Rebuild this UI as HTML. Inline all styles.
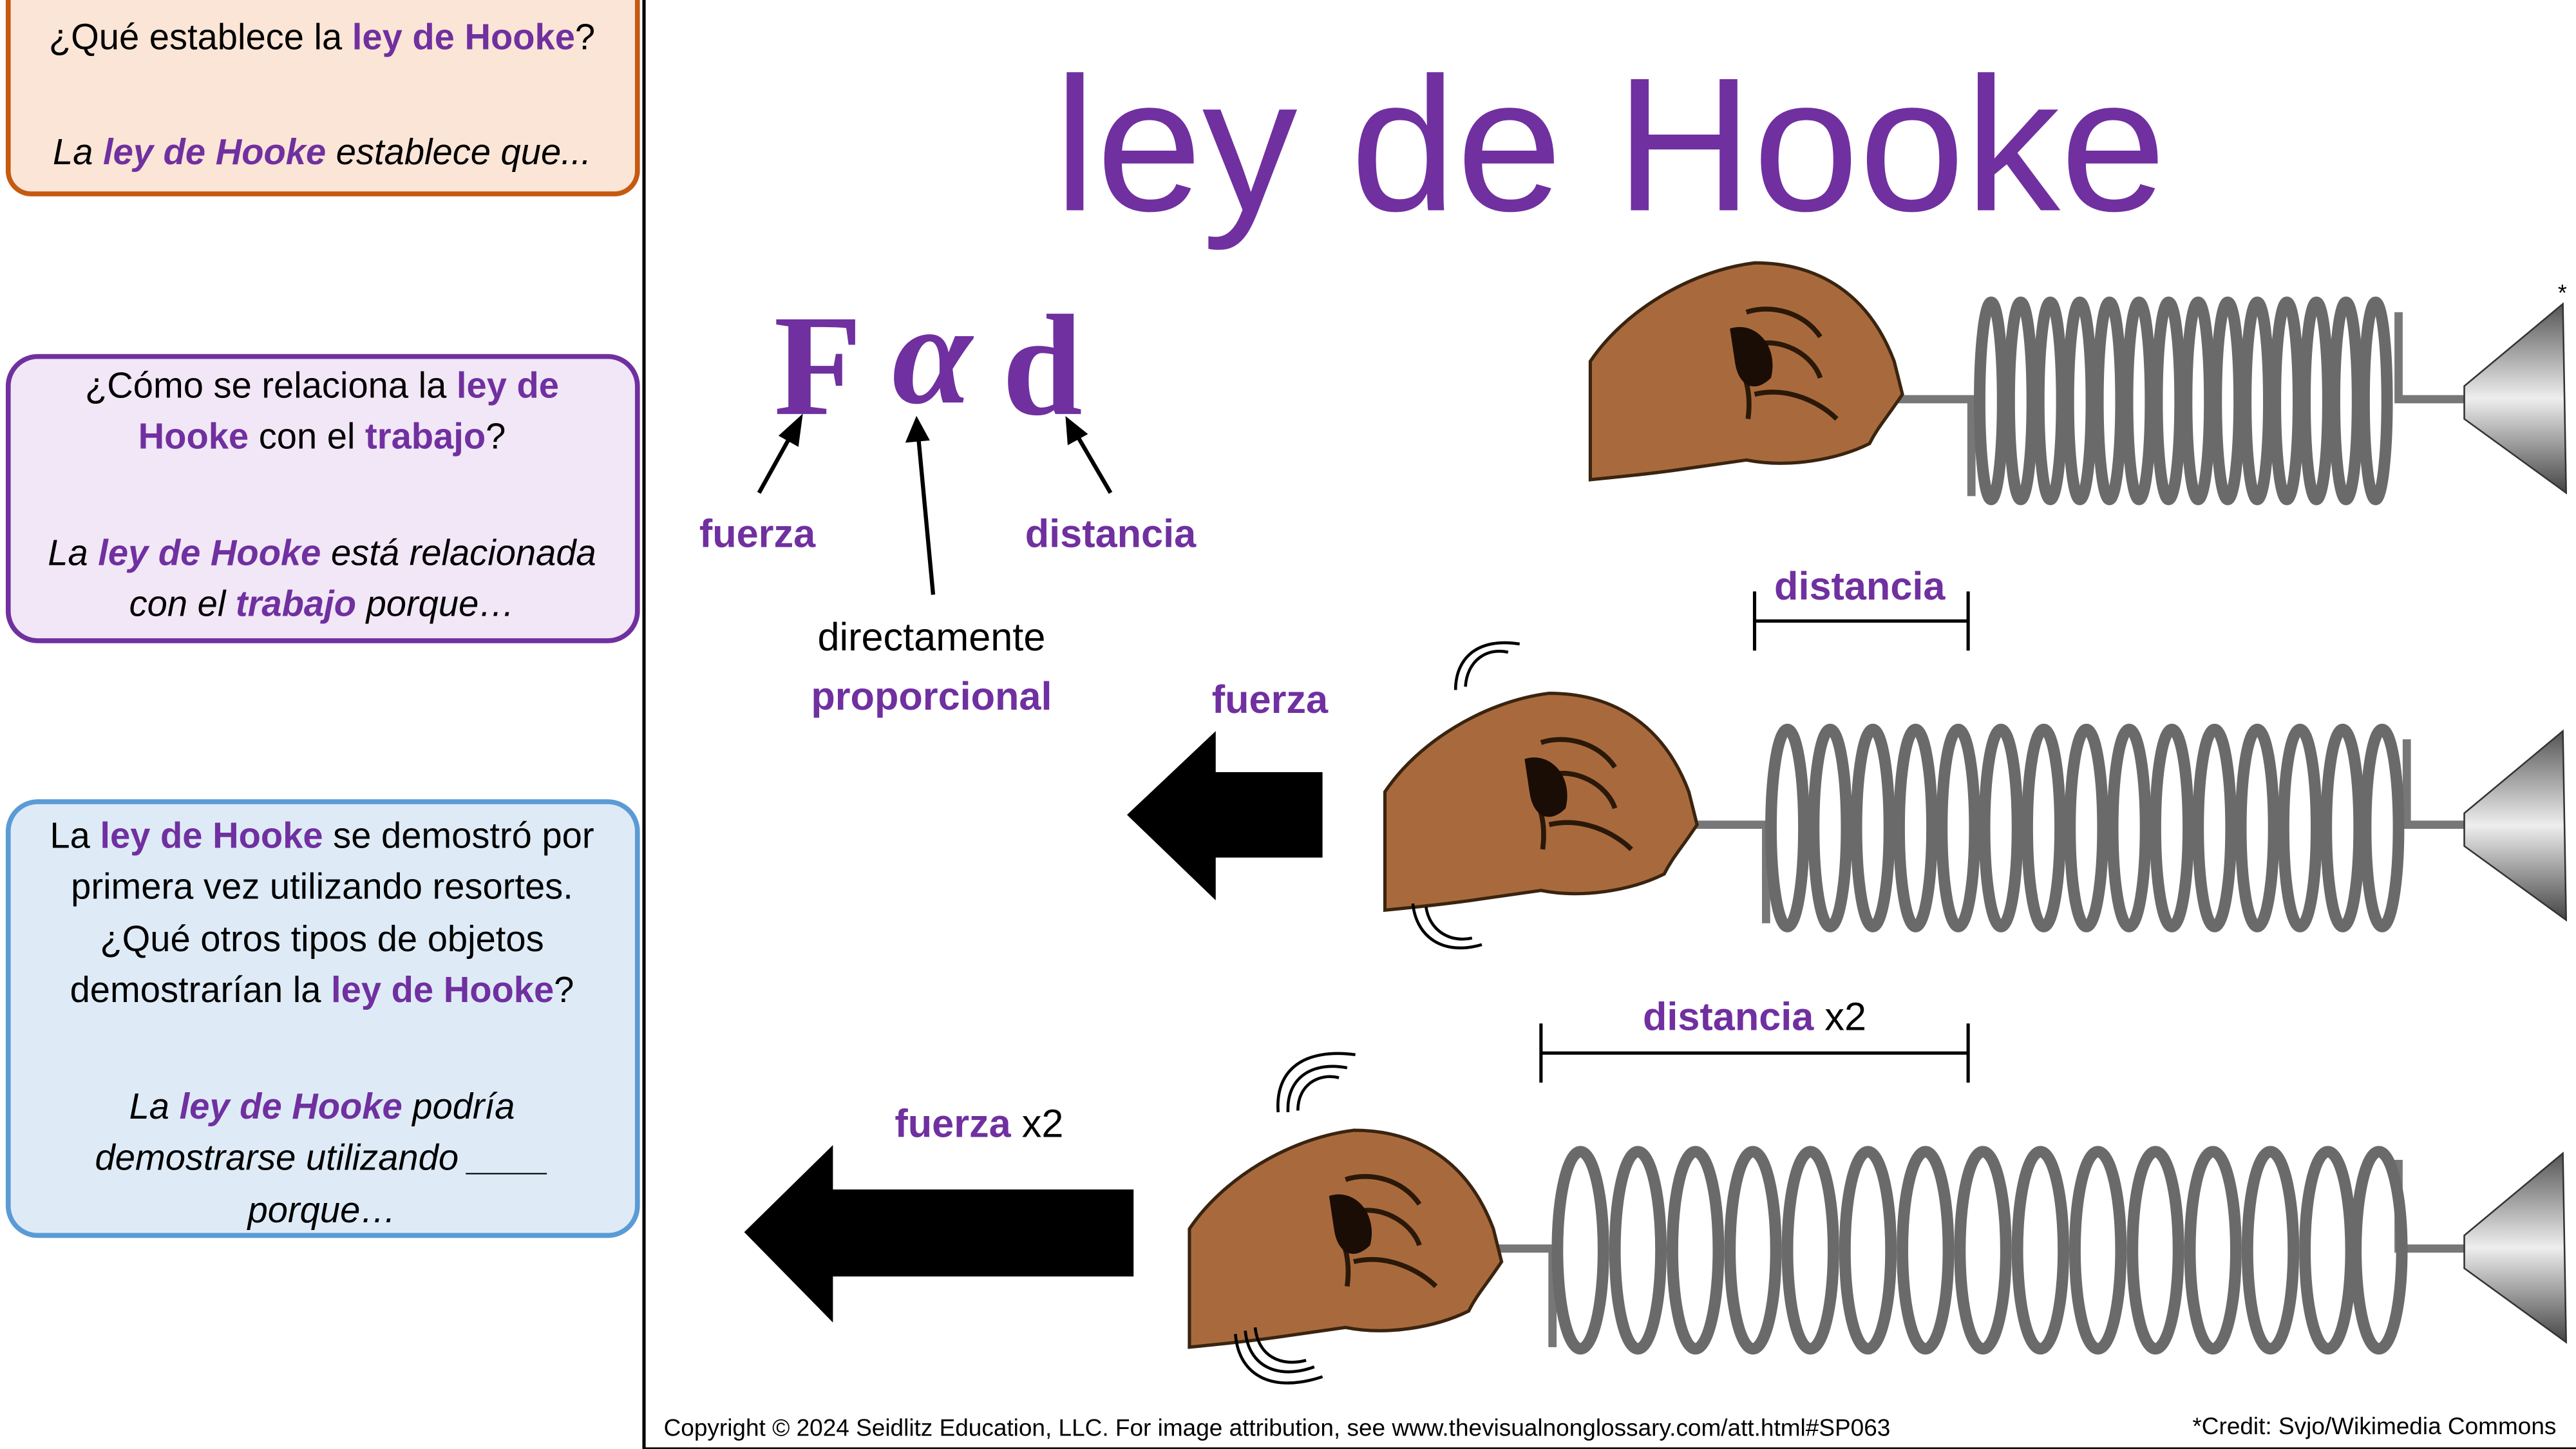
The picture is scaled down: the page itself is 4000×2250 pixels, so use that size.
<!DOCTYPE html>
<html><head><meta charset="utf-8"><style>
html,body{margin:0;padding:0;background:#fff;width:4000px;height:2250px;overflow:hidden}
svg{display:block}
text{font-family:"Liberation Sans",sans-serif}
text.serif{font-family:"Liberation Serif",serif}
.p{fill:#7030a0;font-weight:bold}
</style></head><body>
<svg width="4000" height="2250" viewBox="0 0 1568 882" xmlns="http://www.w3.org/2000/svg">
<defs>
<linearGradient id="cone" x1="0" y1="0" x2="0" y2="1">
<stop offset="0" stop-color="#555"/><stop offset="0.5" stop-color="#eee"/><stop offset="1" stop-color="#444"/></linearGradient>
<g id="hand">
<path d="M0,60 C20,30 60,5 100,0 C140,0 170,20 185,60 L190,80 C180,95 175,100 170,110 C150,120 120,125 95,120 L60,125 C40,128 20,130 0,132 Z" fill="#a86a3d" stroke="#3a2410" stroke-width="2"/>
<path d="M95,30 C110,25 130,30 140,45 M100,50 C115,45 135,55 140,70 M100,80 C120,75 140,85 150,95 M90,60 C95,70 98,80 96,95" fill="none" stroke="#2a1808" stroke-width="3"/>
<path d="M85,40 C100,35 115,50 110,70 C100,80 90,75 88,60 Z" fill="#1a0d05"/>
</g>
</defs>
<rect width="1568" height="882" fill="#fff"/>
<rect x="5" y="-20" width="383" height="138" rx="14" fill="#fbe5d6" stroke="#c55a11" stroke-width="3"/>
<rect x="5" y="217" width="383" height="173" rx="18" fill="#f1e7f6" stroke="#7030a0" stroke-width="3"/>
<rect x="5" y="488" width="383" height="264" rx="18" fill="#deebf7" stroke="#5b9bd5" stroke-width="3"/>
<g font-size="22" text-anchor="middle" fill="#000">
<text x="196" y="30">¿Qué establece la <tspan class="p">ley de Hooke</tspan>?</text>
<text x="196" y="100" font-style="italic">La <tspan class="p">ley de Hooke</tspan> establece que...</text>
<text x="196" y="242">¿Cómo se relaciona la <tspan class="p">ley de</tspan></text>
<text x="196" y="273"><tspan class="p">Hooke</tspan> con el <tspan class="p">trabajo</tspan>?</text>
<text x="196" y="344" font-style="italic">La <tspan class="p">ley de Hooke</tspan> está relacionada</text>
<text x="196" y="375" font-style="italic">con el <tspan class="p">trabajo</tspan> porque…</text>
<text x="196" y="516">La <tspan class="p">ley de Hooke</tspan> se demostró por</text>
<text x="196" y="547">primera vez utilizando resortes.</text>
<text x="196" y="579">¿Qué otros tipos de objetos</text>
<text x="196" y="610">demostrarían la <tspan class="p">ley de Hooke</tspan>?</text>
<text x="196" y="681" font-style="italic">La <tspan class="p">ley de Hooke</tspan> podría</text>
<text x="196" y="712" font-style="italic">demostrarse utilizando ____</text>
<text x="196" y="744" font-style="italic">porque…</text>
</g>
<rect x="392" y="-2" width="1180" height="884" fill="none" stroke="#000" stroke-width="2"/>
<text x="980" y="128" text-anchor="middle" font-size="116" fill="#7030a0">ley de Hooke</text>
<g font-weight="bold" fill="#7030a0" font-size="88">
<text class="serif" x="471" y="252" style="font-family:'Liberation Serif',serif">F</text>
<text class="serif" x="543" y="245" style="font-family:'Liberation Serif',serif;font-style:italic">α</text>
<text class="serif" x="610" y="252" style="font-family:'Liberation Serif',serif">d</text>
</g>
<g stroke="#000" stroke-width="2.5" fill="#000">
<line x1="462" y1="300" x2="482" y2="264"/><polygon points="487,255 476,265 485,270"/>
<line x1="568" y1="362" x2="559" y2="266"/><polygon points="558,256 553,268 564,267"/>
<line x1="676" y1="300" x2="655" y2="264"/><polygon points="650,256 651,269 660,264"/>
</g>
<g font-size="24" text-anchor="middle">
<text x="461" y="333" class="p">fuerza</text>
<text x="676" y="333" class="p">distancia</text>
<text x="567" y="396">directamente</text>
<text x="567" y="432" class="p">proporcional</text>
<text x="773" y="434" class="p">fuerza</text>
<text x="1132" y="365" class="p">distancia</text>
<text x="596" y="692"><tspan class="p">fuerza</tspan> x2</text>
<text x="1068" y="627"><tspan class="p">distancia</tspan> x2</text>
</g>
<g stroke="#000" stroke-width="2">
<line x1="1068" y1="378" x2="1198" y2="378"/><line x1="1068" y1="360" x2="1068" y2="396"/><line x1="1198" y1="360" x2="1198" y2="396"/>
<line x1="938" y1="641" x2="1198" y2="641"/><line x1="938" y1="623" x2="938" y2="659"/><line x1="1198" y1="623" x2="1198" y2="659"/>
</g>
<polygon points="686,496 740,445 740,470 805,470 805,522 740,522 740,548" fill="#000"/>
<polygon points="453,750 507,697 507,724 690,724 690,777 507,777 507,805" fill="#000"/>
<g fill="none" stroke="#777" stroke-width="5">
<path d="M1140,243 L1200,243 L1200,302 M1460,190 L1460,243 L1500,243"/>
<path d="M1015,502 L1075,502 L1075,562 M1465,450 L1465,502 L1500,502"/>
<path d="M895,760 L945,760 L945,820 M1460,706 L1460,760 L1500,760"/>
</g>
<g fill="none" stroke="#6a6a6a" stroke-width="7">
<ellipse cx="1212" cy="244" rx="7" ry="60"/><ellipse cx="1230" cy="244" rx="7" ry="60"/><ellipse cx="1248" cy="244" rx="7" ry="60"/><ellipse cx="1266" cy="244" rx="7" ry="60"/><ellipse cx="1284" cy="244" rx="7" ry="60"/><ellipse cx="1302" cy="244" rx="7" ry="60"/><ellipse cx="1320" cy="244" rx="7" ry="60"/><ellipse cx="1338" cy="244" rx="7" ry="60"/><ellipse cx="1356" cy="244" rx="7" ry="60"/><ellipse cx="1374" cy="244" rx="7" ry="60"/><ellipse cx="1392" cy="244" rx="7" ry="60"/><ellipse cx="1410" cy="244" rx="7" ry="60"/><ellipse cx="1428" cy="244" rx="7" ry="60"/><ellipse cx="1446" cy="244" rx="7" ry="60"/>
<ellipse cx="1088" cy="504" rx="10" ry="60"/><ellipse cx="1114" cy="504" rx="10" ry="60"/><ellipse cx="1140" cy="504" rx="10" ry="60"/><ellipse cx="1166" cy="504" rx="10" ry="60"/><ellipse cx="1192" cy="504" rx="10" ry="60"/><ellipse cx="1218" cy="504" rx="10" ry="60"/><ellipse cx="1244" cy="504" rx="10" ry="60"/><ellipse cx="1270" cy="504" rx="10" ry="60"/><ellipse cx="1296" cy="504" rx="10" ry="60"/><ellipse cx="1322" cy="504" rx="10" ry="60"/><ellipse cx="1348" cy="504" rx="10" ry="60"/><ellipse cx="1374" cy="504" rx="10" ry="60"/><ellipse cx="1400" cy="504" rx="10" ry="60"/><ellipse cx="1426" cy="504" rx="10" ry="60"/><ellipse cx="1450" cy="504" rx="10" ry="60"/>
<ellipse cx="962" cy="761" rx="14" ry="60"/><ellipse cx="997" cy="761" rx="14" ry="60"/><ellipse cx="1032" cy="761" rx="14" ry="60"/><ellipse cx="1067" cy="761" rx="14" ry="60"/><ellipse cx="1102" cy="761" rx="14" ry="60"/><ellipse cx="1137" cy="761" rx="14" ry="60"/><ellipse cx="1172" cy="761" rx="14" ry="60"/><ellipse cx="1207" cy="761" rx="14" ry="60"/><ellipse cx="1242" cy="761" rx="14" ry="60"/><ellipse cx="1277" cy="761" rx="14" ry="60"/><ellipse cx="1312" cy="761" rx="14" ry="60"/><ellipse cx="1347" cy="761" rx="14" ry="60"/><ellipse cx="1382" cy="761" rx="14" ry="60"/><ellipse cx="1417" cy="761" rx="14" ry="60"/><ellipse cx="1448" cy="761" rx="14" ry="60"/>
</g>
<polygon points="1500,235 1560,185 1562,300 1500,255" fill="url(#cone)" stroke="#333"/>
<polygon points="1500,495 1560,445 1562,560 1500,515" fill="url(#cone)" stroke="#333"/>
<polygon points="1500,752 1560,702 1562,817 1500,772" fill="url(#cone)" stroke="#333"/>
<use href="#hand" transform="translate(968,160)"/>
<use href="#hand" transform="translate(843,422)"/>
<use href="#hand" transform="translate(724,688)"/>
<g fill="none" stroke="#000" stroke-width="1.8">
<path d="M886,420 C886,400 900,388 925,392 M892,418 C893,402 905,394 918,397"/>
<path d="M860,550 C862,570 878,582 902,575 M868,552 C870,566 882,574 896,571"/>
<path d="M778,677 C776,650 795,638 825,642 M784,677 C783,655 800,646 820,650 M790,676 C790,660 803,653 815,656"/>
<path d="M752,812 C754,838 775,848 805,838 M758,810 C760,832 778,840 800,832 M764,808 C766,826 780,832 795,828"/>
</g>
<text x="1557" y="183" font-size="14">*</text>
<text x="404" y="874" font-size="14.5">Copyright © 2024 Seidlitz Education, LLC.  For image attribution, see www.thevisualnonglossary.com/att.html#SP063</text>
<text x="1556" y="873" font-size="14.5" text-anchor="end">*Credit: Svjo/Wikimedia Commons</text>
</svg>
</body></html>
